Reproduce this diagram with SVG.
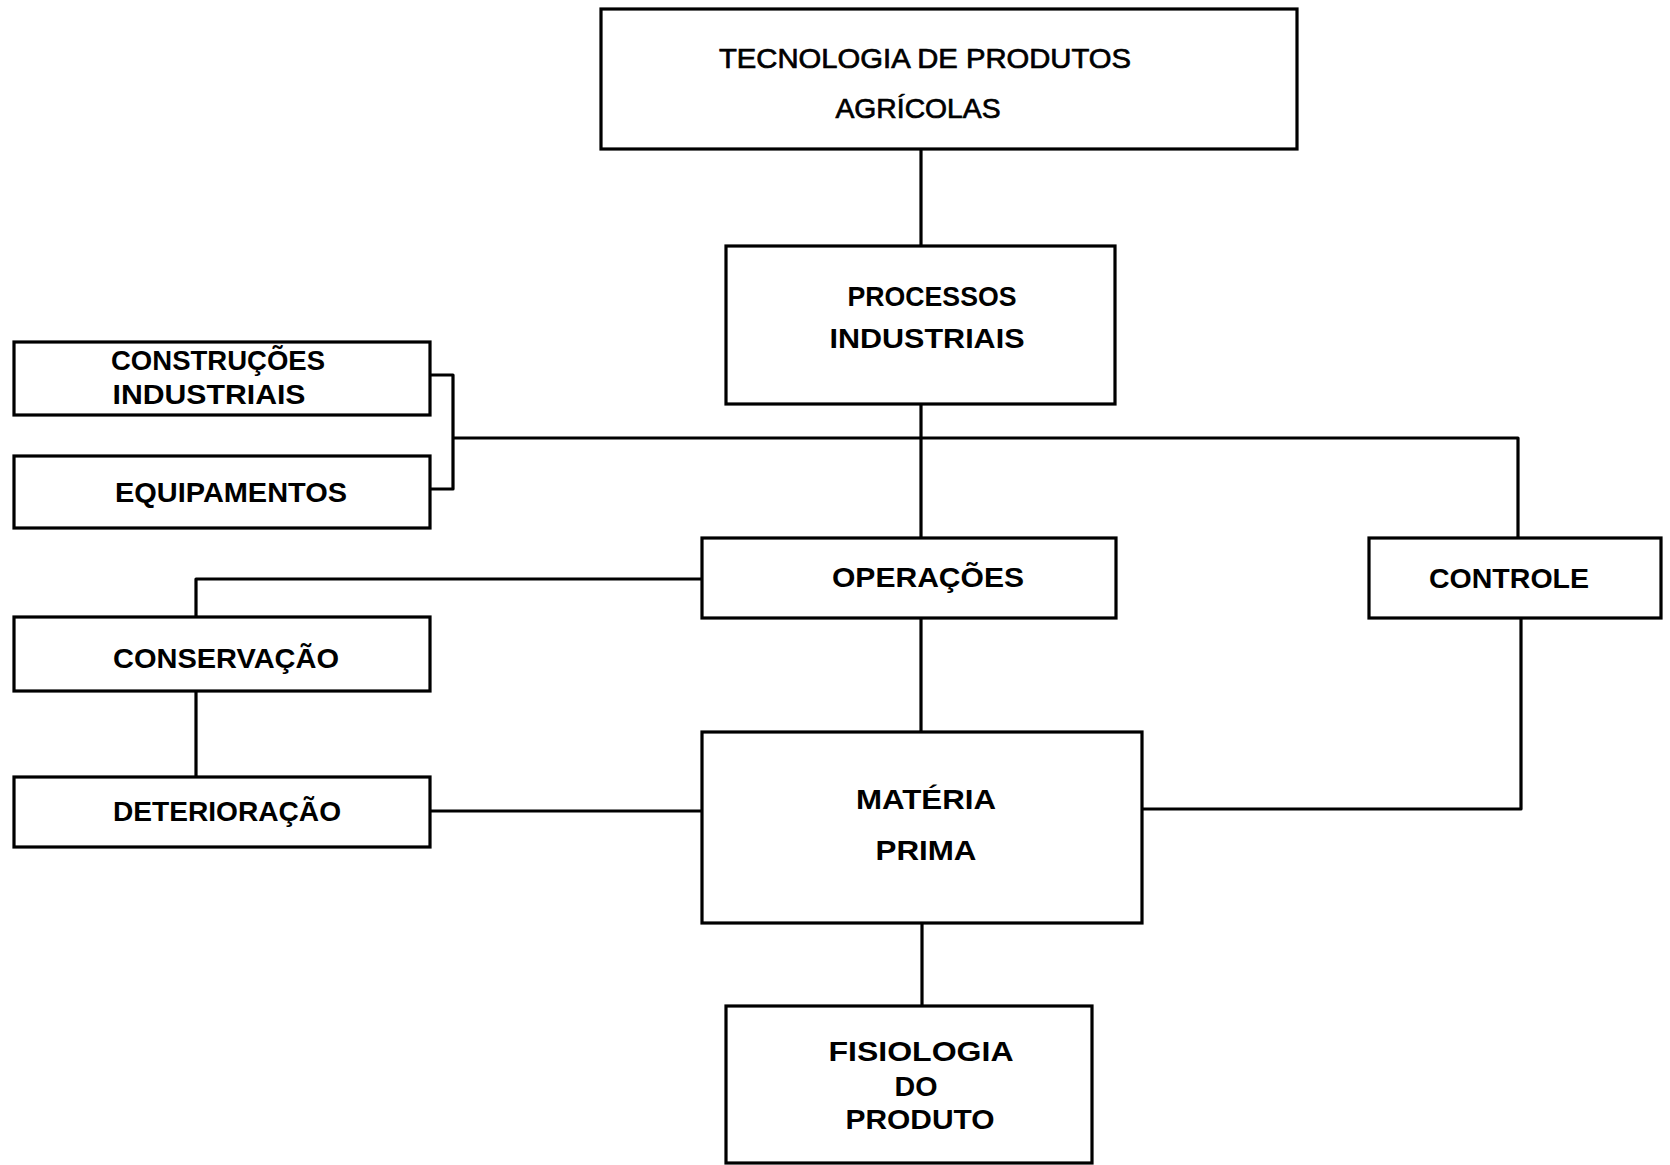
<svg xmlns="http://www.w3.org/2000/svg" width="1670" height="1165" viewBox="0 0 1670 1165">
<style>
.box{fill:#fff;stroke:#000;stroke-width:3.2}
.c{fill:none;stroke:#000;stroke-width:3.2;stroke-linejoin:round}
text{font-family:"Liberation Sans","DejaVu Sans",Arial,sans-serif;font-size:28px;font-weight:bold;fill:#000;text-anchor:middle}
.reg{font-weight:normal;stroke:#000;stroke-width:0.7}
</style>
<rect width="1670" height="1165" fill="#fff"/>
<g id="connectors">
<path class="c" d="M921 149V246"/>
<path class="c" d="M921 404V538"/>
<path class="c" d="M453 438H1518V538"/>
<path class="c" d="M430 375H453V489H430"/>
<path class="c" d="M702 579H196V617"/>
<path class="c" d="M196 691V777"/>
<path class="c" d="M430 811H702"/>
<path class="c" d="M921 618V732"/>
<path class="c" d="M1142 809H1521V618"/>
<path class="c" d="M922 923V1006"/>
</g>
<g id="tecnologia">
<rect class="box" x="601" y="9" width="696" height="140"/>
<text class="reg" x="925" y="68" textLength="412" lengthAdjust="spacingAndGlyphs">TECNOLOGIA DE PRODUTOS</text>
<text class="reg" x="918" y="118" textLength="165" lengthAdjust="spacingAndGlyphs">AGRÍCOLAS</text>
</g>
<g id="processos">
<rect class="box" x="726" y="246" width="389" height="158"/>
<text x="932" y="306" textLength="169" lengthAdjust="spacingAndGlyphs">PROCESSOS</text>
<text x="927" y="348" textLength="195" lengthAdjust="spacingAndGlyphs">INDUSTRIAIS</text>
</g>
<g id="construcoes">
<rect class="box" x="14" y="342" width="416" height="73"/>
<text x="218" y="370" textLength="214" lengthAdjust="spacingAndGlyphs">CONSTRUÇÕES</text>
<text x="209" y="404" textLength="193" lengthAdjust="spacingAndGlyphs">INDUSTRIAIS</text>
</g>
<g id="equipamentos">
<rect class="box" x="14" y="456" width="416" height="72"/>
<text x="231" y="502" textLength="232" lengthAdjust="spacingAndGlyphs">EQUIPAMENTOS</text>
</g>
<g id="operacoes">
<rect class="box" x="702" y="538" width="414" height="80"/>
<text x="928" y="587" textLength="192" lengthAdjust="spacingAndGlyphs">OPERAÇÕES</text>
</g>
<g id="controle">
<rect class="box" x="1369" y="538" width="292" height="80"/>
<text x="1509" y="588" textLength="160" lengthAdjust="spacingAndGlyphs">CONTROLE</text>
</g>
<g id="conservacao">
<rect class="box" x="14" y="617" width="416" height="74"/>
<text x="226" y="668" textLength="226" lengthAdjust="spacingAndGlyphs">CONSERVAÇÃO</text>
</g>
<g id="deterioracao">
<rect class="box" x="14" y="777" width="416" height="70"/>
<text x="227" y="821" textLength="228" lengthAdjust="spacingAndGlyphs">DETERIORAÇÃO</text>
</g>
<g id="materia">
<rect class="box" x="702" y="732" width="440" height="191"/>
<text x="926" y="809" textLength="140" lengthAdjust="spacingAndGlyphs">MATÉRIA</text>
<text x="926" y="860" textLength="101" lengthAdjust="spacingAndGlyphs">PRIMA</text>
</g>
<g id="fisiologia">
<rect class="box" x="726" y="1006" width="366" height="157"/>
<text x="921" y="1061" textLength="185" lengthAdjust="spacingAndGlyphs">FISIOLOGIA</text>
<text x="916" y="1096" textLength="43" lengthAdjust="spacingAndGlyphs">DO</text>
<text x="920" y="1129" textLength="149" lengthAdjust="spacingAndGlyphs">PRODUTO</text>
</g>
</svg>
